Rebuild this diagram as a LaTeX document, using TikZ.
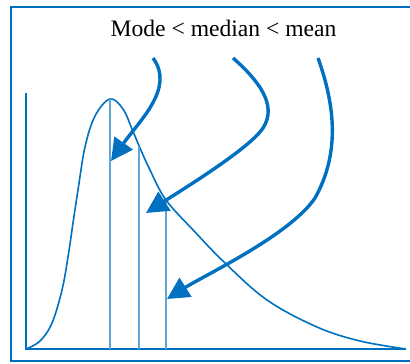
\documentclass[tikz,border=0pt]{standalone}
\usepackage{fontspec}
\setmainfont{Liberation Serif}
\usetikzlibrary{arrows.meta}
\definecolor{figblue}{RGB}{0,112,192}
\definecolor{figlight}{RGB}{95,165,215}
\tikzset{
  frm/.style ={draw=figblue, line width=1pt},
  ax/.style  ={draw=figblue, line width=1pt},
  crv/.style ={draw=figblue, line width=0.8pt},
  mk/.style  ={draw=figlight, line width=0.7pt},
  ptr/.style ={draw=figblue, line width=1.7pt, -{Triangle[length=11pt,width=11pt]}},
  ttl/.style ={font=\fontsize{11.8}{14}\selectfont, inner sep=0pt, anchor=base},
}
\begin{document}
\begin{tikzpicture}[x=0.5pt,y=-0.5pt]
  \useasboundingbox (0,0) rectangle (410,363);
  \clip (0,0) rectangle (410,363);
  \draw[frm] (11,7) rectangle (430,361);
  \node[ttl] (title) at (223.5,37) {Mode < median < mean};
  % axes and the skewed curve
  \draw[ax] (26,93) -- (26,349) -- (406,349);
  \draw[crv] plot[smooth, tension=0.6] coordinates {
    (26,349) (40,341) (52,323) (62,290) (68,257) (73,223) (78,190)
    (85,147) (95,116) (110,99) (123,109) (132,129) (140,148) (150,170)
    (166,200) (195,232) (225,263) (267,300) (317,327) (360,341) (406,349)};
  % mode, median, mean
  \coordinate (mode)   at (110,99);
  \coordinate (median) at (139,147);
  \coordinate (mean)   at (166,200);
  \draw[mk] (mode) -- (mode |- 0,349);
  \draw[mk] (median) -- (median |- 0,349);
  \draw[mk] (mean) -- (mean |- 0,349);
  % pointers
  \coordinate (s1) at (153,58);
  \coordinate (s2) at (233,58);
  \coordinate (s3) at (318,58);
  \coordinate (t1) at (111,161);
  \coordinate (t2) at (146,213);
  \coordinate (t3) at (167,299);
  \draw[ptr] (s1) .. controls (175,88) and (140,120) .. (t1);
  \draw[ptr] (s2) .. controls (258,80) and (278,105) .. (263,128)
    .. controls (250,148) and (185,188) .. (t2);
  \draw[ptr] (s3) .. controls (333,100) and (342,150) .. (315,198)
    .. controls (290,235) and (205,275) .. (t3);
\end{tikzpicture}
\end{document}
